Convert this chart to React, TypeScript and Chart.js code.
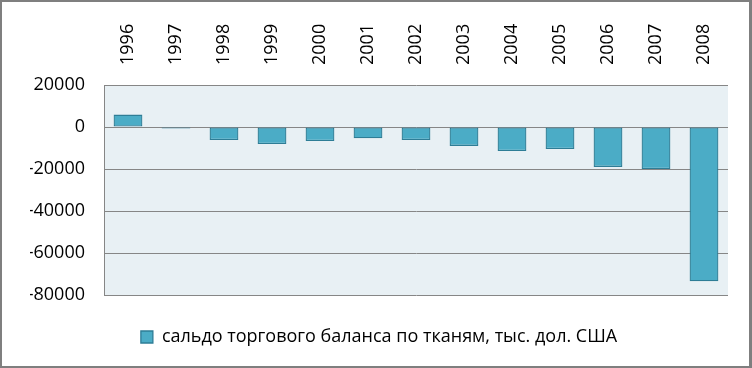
import React, { useEffect, useRef } from "react";
import { Chart, registerables } from "chart.js";

Chart.register(...registerables);

const years = ["1996", "1997", "1998", "1999", "2000", "2001", "2002", "2003", "2004", "2005", "2006", "2007", "2008"];
const balance = [5900, -700, -6200, -8100, -6700, -5400, -6200, -9000, -11400, -10500, -19000, -20000, -73500];
const seriesLabel = "сальдо торгового баланса по тканям, тыс. дол. США";
const yMin = -80000;
const yMax = 20000;
const yStep = 20000;

const FONT = "'Open Sans', 'Noto Sans', sans-serif";

const plotBg = {
  id: "plotBg",
  beforeDraw(chart: any) {
    const { ctx, chartArea } = chart;
    if (!chartArea) return;
    ctx.save();
    ctx.fillStyle = "#e8f0f4";
    ctx.fillRect(chartArea.left, chartArea.top, chartArea.right - chartArea.left, chartArea.bottom - chartArea.top);
    ctx.restore();
  },
};

export default function App() {
  const ref = useRef<HTMLCanvasElement | null>(null);

  useEffect(() => {
    if (!ref.current) return;
    const chart = new Chart(ref.current, {
      type: "bar",
      data: {
        labels: years,
        datasets: [
          {
            label: seriesLabel,
            data: balance,
            backgroundColor: "#4bacc6",
            borderColor: "#2e7d96",
            borderWidth: 1.3,
            borderSkipped: false,
            barPercentage: 0.6,
            categoryPercentage: 1,
          },
        ],
      },
      plugins: [plotBg],
      options: {
        responsive: false,
        animation: false,
        devicePixelRatio: 1,
        layout: { padding: { left: 30, right: 24, top: 0, bottom: 12 } },
        plugins: {
          tooltip: { enabled: false },
          legend: {
            display: true,
            position: "bottom",
            labels: {
              boxWidth: 12,
              boxHeight: 12,
              padding: 33,
              color: "#000",
              font: { family: FONT, size: 18 },
            },
          },
        },
        scales: {
          x: {
            position: "top",
            grid: { display: false, drawTicks: false },
            border: { display: false },
            ticks: {
              minRotation: 90,
              maxRotation: 90,
              padding: 20,
              labelOffset: 21,
              color: "#000",
              font: { family: FONT, size: 18 },
            },
            afterFit(scale: any) {
              scale.height = 85;
            },
          },
          y: {
            min: yMin,
            max: yMax,
            grid: { color: "#868686", lineWidth: 1, drawTicks: false },
            border: { display: true, color: "#868686", width: 1 },
            ticks: {
              stepSize: yStep,
              padding: 19,
              color: "#000",
              font: { family: FONT, size: 18 },
              callback: (v: any) => String(v),
            },
            afterFit(scale: any) {
              scale.width = 74;
            },
          },
        },
      },
    });
    return () => chart.destroy();
  }, []);

  return (
    <div style={{ position: "fixed", left: 0, top: 0, width: 752, height: 368, background: "#fff" }}>
      <canvas ref={ref} width={752} height={368} style={{ position: "absolute", left: 0, top: 0, width: 752, height: 368 }} />
      <div
        style={{
          position: "absolute",
          left: 0,
          top: 0,
          width: 752,
          height: 368,
          boxSizing: "border-box",
          borderStyle: "solid",
          borderColor: "#7f7f7f",
          borderWidth: "2px 3px 2px 2px",
          pointerEvents: "none",
        }}
      />
    </div>
  );
}
